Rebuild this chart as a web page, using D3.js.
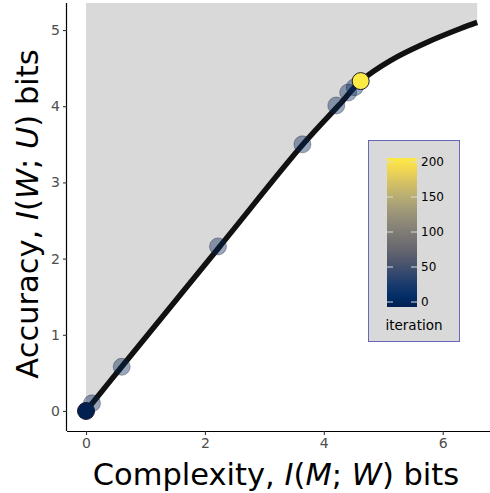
<!DOCTYPE html>
<html>
<head>
<meta charset="utf-8">
<script src="https://cdn.jsdelivr.net/npm/d3@7"></script>
<style>
  body { margin: 0; background: #fff; }
  svg { font-family: "DejaVu Sans", sans-serif; }
</style>
</head>
<body>
<svg id="chart" width="490" height="493"></svg>
<script>
// bound curve (complexity, accuracy)
var curveX = [0, 0.6, 2.25, 3.65, 4.25, 4.62, 5.12, 5.74, 6.3, 6.58];
var curveY = [0, 0.58, 2.16, 3.50, 4.01, 4.33, 4.60, 4.84, 5.02, 5.10];

// trajectory of the optimiser
var iterations = [0, 1, 2, 3, 4, 5, 6, 7, 200];
var pointX = [0, 0.1, 0.6, 2.22, 3.64, 4.21, 4.41, 4.52, 4.62];
var pointY = [0, 0.1, 0.58, 2.16, 3.50, 4.01, 4.18, 4.25, 4.33];

var xTicks = [0, 2, 4, 6],
    yTicks = [0, 1, 2, 3, 4, 5],
    legendTicks = [0, 50, 100, 150, 200];

var svg = d3.select("#chart");

var pLeft = 67, pRight = 498, pTop = 3, pBottom = 431;

var x = d3.scaleLinear().domain([-0.32, 6.93]).range([pLeft, pRight]);
var y = d3.scaleLinear().domain([-0.263, 5.355]).range([pBottom, pTop]);
var color = d3.scaleSequential(d3.interpolateCividis).domain([0, 200]);

var curve = curveX.map(function (d, i) { return [d, curveY[i]]; });

var line = d3.line()
    .x(function (d) { return x(d[0]); })
    .y(function (d) { return y(d[1]); })
    .curve(d3.curveCatmullRom);

// grey region above the bound
var areaGen = d3.area()
    .x(function (d) { return x(d[0]); })
    .y0(pTop)
    .y1(function (d) { return y(d[1]); })
    .curve(d3.curveCatmullRom);
svg.append("path")
    .datum(curve)
    .attr("d", areaGen)
    .attr("fill", "#d9d9d9");

svg.append("path")
    .datum(curve)
    .attr("d", line)
    .attr("fill", "none")
    .attr("stroke", "#111")
    .attr("stroke-width", 5.5);

// points
var pts = iterations.map(function (it, i) { return { it: it, x: pointX[i], y: pointY[i] }; });
svg.append("g").selectAll("circle")
    .data(pts)
    .enter().append("circle")
    .attr("cx", function (d) { return x(d.x); })
    .attr("cy", function (d) { return y(d.y); })
    .attr("r", 8.5)
    .attr("fill", function (d) { return color(d.it); })
    .attr("fill-opacity", function (d, i) { return (i === 0 || i === pts.length - 1) ? 1 : 0.4; })
    .attr("stroke", "#1a1a2a")
    .attr("stroke-opacity", function (d, i) { return (i === 0 || i === pts.length - 1) ? 1 : 0.35; })
    .attr("stroke-width", 1);

// axes
var xAxis = svg.append("g")
    .attr("transform", "translate(0," + pBottom + ")")
    .call(d3.axisBottom(x).tickValues(xTicks).tickFormat(d3.format("d")).tickSize(4).tickPadding(3));
var yAxis = svg.append("g")
    .attr("transform", "translate(" + pLeft + ",0)")
    .call(d3.axisLeft(y).tickValues(yTicks).tickFormat(d3.format("d")).tickSize(4).tickPadding(3));

xAxis.select(".domain").attr("d", "M" + pLeft + ",0.5H490");
yAxis.select(".domain").attr("d", "M-0.5," + pBottom + "V" + pTop);
[xAxis, yAxis].forEach(function (a) {
    a.select(".domain").attr("stroke", "#000").attr("stroke-width", 1.2);
    a.selectAll(".tick line").attr("stroke", "#333").attr("stroke-width", 1.1);
    a.selectAll(".tick text").attr("fill", "#4d4d4d")
        .attr("font-size", 14)
        .attr("font-family", "DejaVu Sans, sans-serif");
});

// axis titles
var xt = svg.append("text")
    .attr("x", 276).attr("y", 485)
    .attr("text-anchor", "middle")
    .style("font-size", "30.5px");
xt.append("tspan").text("Complexity, ");
xt.append("tspan").attr("font-style", "italic").text("I");
xt.append("tspan").text("(");
xt.append("tspan").attr("font-style", "italic").text("M");
xt.append("tspan").text("; ");
xt.append("tspan").attr("font-style", "italic").text("W");
xt.append("tspan").text(") bits");

var yt = svg.append("text")
    .attr("transform", "translate(38,214) rotate(-90)")
    .attr("text-anchor", "middle")
    .style("font-size", "30.5px");
yt.append("tspan").text("Accuracy, ");
yt.append("tspan").attr("font-style", "italic").text("I");
yt.append("tspan").text("(");
yt.append("tspan").attr("font-style", "italic").text("W");
yt.append("tspan").text("; ");
yt.append("tspan").attr("font-style", "italic").text("U");
yt.append("tspan").text(") bits");

// legend
var legend = svg.append("g");
legend.append("rect")
    .attr("x", 368.5).attr("y", 140.5)
    .attr("width", 91).attr("height", 201)
    .attr("fill", "#d9d9d9")
    .attr("stroke", "#6666bb")
    .attr("stroke-width", 1);

var ly = d3.scaleLinear().domain([0, 200]).range([302, 162]);
var defs = svg.append("defs");
var grad = defs.append("linearGradient")
    .attr("id", "cbar").attr("x1", 0).attr("y1", 1).attr("x2", 0).attr("y2", 0);
d3.range(0, 1.0001, 0.05).forEach(function (t) {
    grad.append("stop").attr("offset", t).attr("stop-color", d3.interpolateCividis(t));
});
legend.append("rect")
    .attr("x", 387).attr("y", 158)
    .attr("width", 30).attr("height", 149)
    .attr("fill", "url(#cbar)");

legendTicks.forEach(function (d) {
    legend.append("line")
        .attr("x1", 387).attr("x2", 393)
        .attr("y1", ly(d)).attr("y2", ly(d))
        .attr("stroke", "#ddd").attr("stroke-width", 1);
    legend.append("line")
        .attr("x1", 411).attr("x2", 417)
        .attr("y1", ly(d)).attr("y2", ly(d))
        .attr("stroke", "#ddd").attr("stroke-width", 1);
    legend.append("text")
        .attr("x", 421).attr("y", ly(d))
        .attr("dy", "0.35em")
        .style("font-size", "12px")
        .text(d);
});
legend.append("text")
    .attr("x", 414).attr("y", 330)
    .attr("text-anchor", "middle")
    .style("font-size", "13.5px")
    .text("iteration");
</script>
</body>
</html>
